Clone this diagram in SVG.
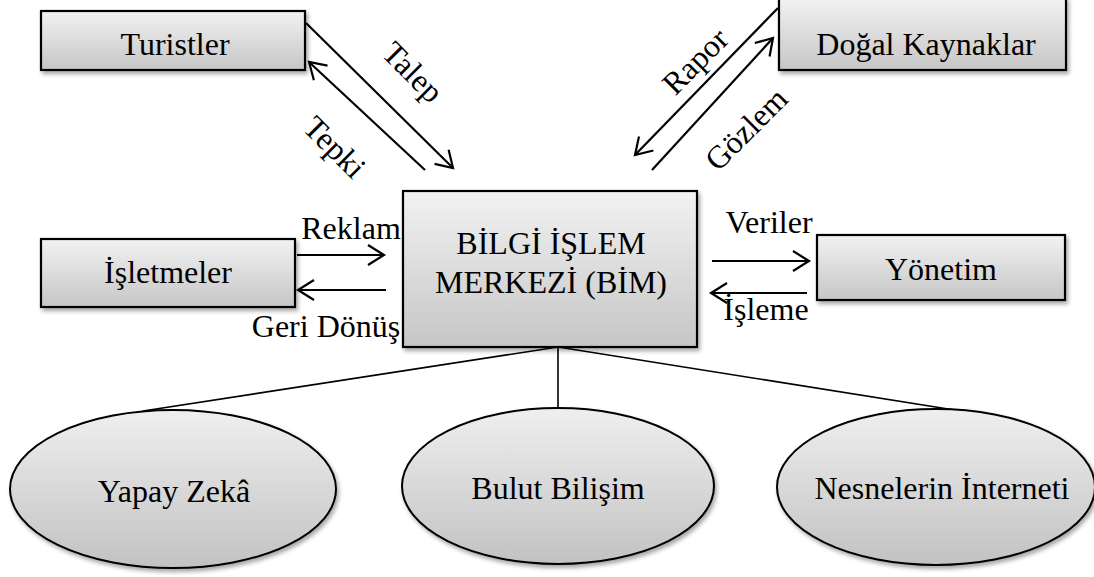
<svg xmlns="http://www.w3.org/2000/svg" width="1094" height="577" viewBox="0 0 1094 577">
<style>
text{font-family:'Liberation Serif','DejaVu Serif',serif;font-size:32px;fill:#000;}
.n{text-anchor:middle;}
.box{fill:url(#gb);stroke:#000;stroke-width:2.2;filter:url(#sh);}
.ell{fill:url(#ge);stroke:#000;stroke-width:2;filter:url(#sh);}
.arr{stroke:#000;stroke-width:2.2;fill:none;marker-end:url(#ah);}
.ln{stroke:#000;stroke-width:1.6;fill:none;}
</style>
<defs>
<linearGradient id="gb" x1="0" y1="0" x2="0" y2="1">
<stop offset="0" stop-color="#f2f2f2"/><stop offset="1" stop-color="#c6c6c6"/>
</linearGradient>
<linearGradient id="ge" x1="0" y1="0" x2="0" y2="1">
<stop offset="0" stop-color="#efefef"/><stop offset="1" stop-color="#c2c2c2"/>
</linearGradient>
<filter id="sh" x="-10%" y="-10%" width="125%" height="130%">
<feGaussianBlur in="SourceAlpha" stdDeviation="2"/>
<feOffset dx="2" dy="3" result="o"/>
<feComponentTransfer><feFuncA type="linear" slope="0.35"/></feComponentTransfer>
<feMerge><feMergeNode/><feMergeNode in="SourceGraphic"/></feMerge>
</filter>
<marker id="ah" markerUnits="userSpaceOnUse" markerWidth="30" markerHeight="30" viewBox="-20 -15 30 30" refX="0" refY="0" orient="auto" overflow="visible">
<path d="M-16,-10 L0,0 L-16,10" fill="none" stroke="#000" stroke-width="2.2"/>
</marker>
</defs>
<g id="connectors">
<line class="arr" x1="306" y1="23" x2="453" y2="168"/>
<line class="arr" x1="425" y1="170" x2="309" y2="62"/>
<line class="arr" x1="778" y1="8" x2="635" y2="155"/>
<line class="arr" x1="652" y1="170" x2="773" y2="38"/>
<line class="arr" x1="297" y1="255" x2="384" y2="255"/>
<line class="arr" x1="386" y1="290" x2="298" y2="290"/>
<line class="arr" x1="712" y1="261" x2="809" y2="261"/>
<line class="arr" x1="807" y1="293" x2="711" y2="293"/>
<line class="ln" x1="558" y1="347" x2="143" y2="411"/>
<line class="ln" x1="558" y1="347" x2="558" y2="408"/>
<line class="ln" x1="558" y1="347" x2="967" y2="412"/>
<text transform="translate(413,72) rotate(45)" y="11" class="n">Talep</text>
<text transform="translate(335,147) rotate(45)" y="11" class="n">Tepki</text>
<text transform="translate(695,61) rotate(-45)" y="11" class="n">Rapor</text>
<text transform="translate(746,129) rotate(-45)" y="11" class="n">Gözlem</text>
<text x="351" y="239" class="n">Reklam</text>
<text x="326" y="337" class="n">Geri Dönüş</text>
<text x="769" y="233" class="n">Veriler</text>
<text x="766" y="320" class="n">İşleme</text>
</g>
<g id="turistler"><rect class="box" x="41" y="11" width="264" height="59"/><text x="175" y="55" class="n">Turistler</text></g>
<g id="dogal"><rect class="box" x="779" y="-2" width="287" height="72"/><text x="926" y="55" class="n">Doğal Kaynaklar</text></g>
<g id="isletmeler"><rect class="box" x="41" y="239" width="254" height="68"/><text x="168" y="283" class="n">İşletmeler</text></g>
<g id="bim"><rect class="box" x="403" y="191" width="294" height="156"/><text x="551" y="254" class="n">BİLGİ İŞLEM</text><text x="551" y="293" class="n">MERKEZİ (BİM)</text></g>
<g id="yonetim"><rect class="box" x="817" y="235" width="248" height="65"/><text x="941" y="280" class="n">Yönetim</text></g>
<g id="yapay"><ellipse class="ell" cx="173" cy="489" rx="163" ry="79"/><text x="174" y="502" class="n">Yapay Zekâ</text></g>
<g id="bulut"><ellipse class="ell" cx="558" cy="486" rx="156" ry="78"/><text x="558" y="499" class="n">Bulut Bilişim</text></g>
<g id="nesneler"><ellipse class="ell" cx="936" cy="487" rx="159" ry="78"/><text x="942" y="499" class="n">Nesnelerin İnterneti</text></g>
</svg>
